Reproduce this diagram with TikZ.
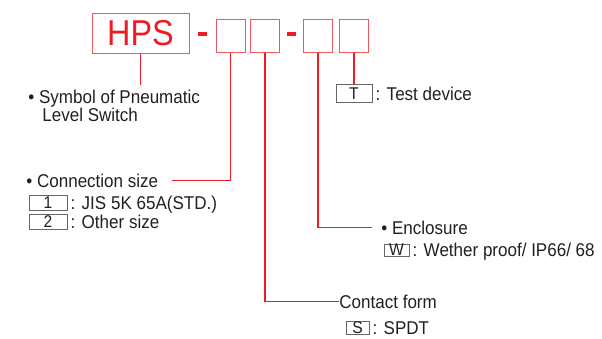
\documentclass[tikz,border=0pt]{standalone}
\usepackage{fontspec}
\setmainfont{Liberation Sans}[FakeStretch=0.92]
\newfontfamily\hpsfont{Liberation Sans}[FakeStretch=0.9]
\usetikzlibrary{positioning, calc}
\definecolor{codered}{HTML}{ED1C24}
\definecolor{inkgray}{HTML}{231F20}

\begin{document}
\begin{tikzpicture}[
    % Global options: pixel grid, font, colours
    x=1pt, y=-1pt,
    line width=0.8pt,
    font=\fontsize{18.5}{18}\selectfont,
    text=inkgray,
    codebox/.style={draw=codered!75, line width=1pt, inner sep=0pt,
      minimum width=29pt, minimum height=33pt},
    dashbar/.style={fill=codered, inner sep=0pt,
      minimum width=9pt, minimum height=3.5pt},
    leader/.style={draw=codered, line width=1.6pt},
    keybox/.style={draw=gray!80!black, line width=0.6pt, fill=white, inner sep=0pt,
      minimum height=15pt, text height=11.5pt, text depth=0pt,
      font=\fontsize{17}{17}\selectfont},
    entry/.style={inner sep=0pt, text height=13pt, text depth=0pt},
    desc/.style={anchor=base west, inner sep=0pt},
  ]
    \useasboundingbox (0,0) rectangle (602,338);

    % --- Model code: HPS - [][] - [][] ---
    \node[codebox, minimum width=97pt, minimum height=40pt,
      font=\hpsfont\fontsize{36}{36}\selectfont, text=codered] (hps) at (140.5,33) {HPS};
    \node[dashbar] (dashA) at (202.5,34) {};
    \node[codebox] (codeA) at (230.5,35.5) {};
    \node[codebox] (codeB) at (265,35.5) {};
    \node[dashbar] (dashB) at (291.5,34) {};
    \node[codebox] (codeC) at (318,35.5) {};
    \node[codebox] (codeD) at (354,35.5) {};

    % --- Symbol ---
    \node[desc] (symbol) at (28,103) {\textbullet\ Symbol of Pneumatic};
    \node[desc] (symbolB) at (42,121) {Level Switch};
    \draw[leader] (hps.south) -- ([yshift=4pt]hps.south |- symbol.north);

    % --- Test device ---
    \node[keybox, minimum width=36pt, minimum height=18pt] (keyT) at (354,93.5) {T};
    \node[entry, right=3pt of keyT] (testdev) {: Test device};
    \draw[leader] (codeD.south) -- (keyT.north);

    % --- Connection size ---
    \node[desc] (conn) at (26,187) {\textbullet\ Connection size};
    \node[keybox, minimum width=38pt] (keyA) at (48,203) {1};
    \node[entry, right=3pt of keyA] (jis) {: JIS 5K 65A(STD.)};
    \node[keybox, minimum width=38pt] (keyB) at (48,222) {2};
    \node[entry, right=3pt of keyB] (other) {: Other size};
    \draw[leader] (codeA.south) |- ($(conn.east)+(13,0)$);

    % --- Enclosure ---
    \node[desc] (encl) at (381,234) {\textbullet\ Enclosure};
    \node[keybox, minimum width=25pt, minimum height=12pt] (keyW) at (396.5,250) {W};
    \node[entry, right=3pt of keyW] (wether) {: Wether proof/ IP66/ 68};
    \draw[leader] (codeC.south) |- ($(encl.west)+(-9,0)$);

    % --- Contact form ---
    \node[desc] (contact) at (339,308) {Contact form};
    \node[keybox, minimum width=23pt, minimum height=13pt] (keyS) at (357.5,328) {S};
    \node[entry, right=3pt of keyS] (spdt) {: SPDT};
    \draw[leader] (codeB.south) |- (contact.west);
  \end{tikzpicture}
\end{document}
